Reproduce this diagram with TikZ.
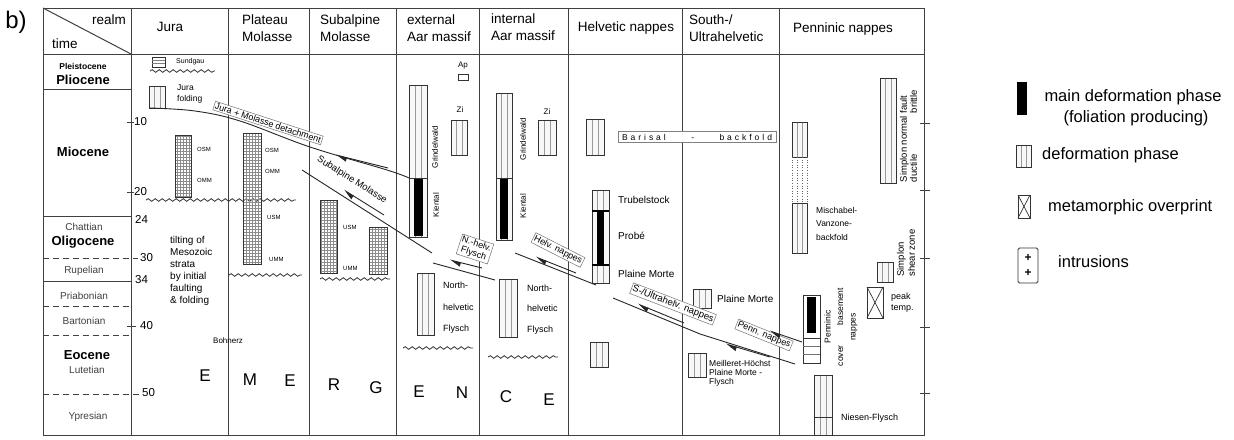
\documentclass[tikz,border=0pt]{standalone}
\usepackage{fontspec}
\setmainfont{Liberation Sans}
\newfontfamily\spacedfont[LetterSpace=35]{Liberation Sans}
\usetikzlibrary{arrows.meta,patterns,decorations.pathmorphing,calc}
\begin{document}
\begin{tikzpicture}[x=1pt,y=-1pt,
  frame/.style={line width=1pt, draw=black!75},
  hdr/.style={font=\fontsize{13.5}{17}\selectfont, align=left, inner sep=0pt},
  epoch/.style={font=\bfseries\fontsize{13}{15}\selectfont, inner sep=0pt},
  stage/.style={font=\fontsize{10}{12}\selectfont, text=black!75, inner sep=0pt},
  num/.style={font=\fontsize{11.5}{13}\selectfont, inner sep=0pt, anchor=west},
  small/.style={font=\fontsize{6}{7}\selectfont, inner sep=0pt, anchor=west},
  lab/.style={font=\fontsize{9.5}{12}\selectfont, inner sep=0pt, anchor=west},
  rot/.style={font=\fontsize{8}{9}\selectfont, inner sep=0pt, rotate=90},
  big/.style={font=\fontsize{17}{20}\selectfont, inner sep=0pt},
  leg/.style={font=\fontsize{16.5}{20}\selectfont, inner sep=0pt},
  plainbox/.style={draw=black!80, line width=0.8pt},
  defbox/.style={draw=black!80, line width=0.8pt, fill=black!3,
    path picture={
      \draw[black!40, line width=0.4pt]
        ($(path picture bounding box.north west)!0.33!(path picture bounding box.north east)$) --
        ($(path picture bounding box.south west)!0.33!(path picture bounding box.south east)$)
        ($(path picture bounding box.north west)!0.67!(path picture bounding box.north east)$) --
        ($(path picture bounding box.south west)!0.67!(path picture bounding box.south east)$);
    }},
  molbox/.style={draw=black!80, line width=0.8pt, pattern=grid, pattern color=black!45},
  wave/.style={draw=black!80, line width=0.8pt, decorate, decoration={snake, amplitude=1.3pt, segment length=7pt}},
  thrust/.style={draw=black!85, line width=0.9pt},
  harp/.style={draw=black!85, line width=0.9pt, {Triangle[harpoon,length=10pt,width=8pt]}-},
  tlabel/.style={draw=black!55, fill=white, line width=0.5pt, inner sep=1.2pt, font=\fontsize{9}{10}\selectfont},
  dashline/.style={draw=black!75, line width=1pt, dash pattern=on 6pt off 4pt}
]
\useasboundingbox (0,0) rectangle (1234,439);
\fill[white] (0,0) rectangle (1234,439);

\node[font=\fontsize{24}{26}\selectfont, inner sep=0pt] (blabel) at (16,22) {b)};

% ---------- frame ----------
\draw[frame] (43,8) rectangle (924,435);
\draw[frame] (43,54) -- (924,54);
\foreach \cx in {131,228,309,396,479,568,682,779}
  \draw[frame] (\cx,8) -- (\cx,435);
\draw[frame] (43,8) -- (131,54);

% ---------- headers ----------
\node[hdr, anchor=east] (realm) at (126,20) {realm};
\node[hdr, anchor=west] (time) at (52,44) {time};
\node[hdr] (hjura) at (170,27) {Jura};
\node[hdr, anchor=west] (hplat) at (242,28) {Plateau\\Molasse};
\node[hdr, anchor=west] (hsub) at (320,28) {Subalpine\\Molasse};
\node[hdr, anchor=west] (hext) at (407,28) {external\\Aar massif};
\node[hdr, anchor=west] (hint) at (491,27) {internal\\Aar massif};
\node[hdr] (hhel) at (626,28) {Helvetic nappes};
\node[hdr, anchor=west] (hsou) at (689,28) {South-/\\Ultrahelvetic};
\node[hdr] (hpen) at (843,29) {Penninic nappes};

% ---------- time column ----------
\draw[frame] (43,89) -- (131,89);
\draw[frame] (43,216) -- (131,216);
\draw[frame] (43,281) -- (131,281);
\draw[dashline] (43,258) -- (138,258);
\draw[dashline] (43,306) -- (131,306);
\draw[dashline] (43,335) -- (131,335);
\draw[dashline] (43,394) -- (139,394);
\draw[frame] (127,122) -- (134,122);
\draw[frame] (127,192) -- (134,192);
\draw[frame] (127,326) -- (136,326);

\node[epoch, font=\bfseries\fontsize{8.5}{10}\selectfont] (pleis) at (83,66) {Pleistocene};
\node[epoch] (plio) at (83,80) {Pliocene};
\node[epoch] (mio) at (83,152) {Miocene};
\node[stage] (chat) at (84,227) {Chattian};
\node[epoch] (oligo) at (83,242) {Oligocene};
\node[stage] (rup) at (84,271) {Rupelian};
\node[stage] (pri) at (84,296) {Priabonian};
\node[stage] (bart) at (84,321) {Bartonian};
\node[epoch] (eoc) at (87,355) {Eocene};
\node[stage] (lut) at (87,370) {Lutetian};
\node[stage] (ypr) at (88,417) {Ypresian};

\node[num] (t10) at (134,122) {10};
\node[num] (t20) at (134,192) {20};
\node[num] (t24) at (135,219) {24};
\node[num] (t30) at (140,258) {30};
\node[num] (t34) at (135,280) {34};
\node[num] (t40) at (140,326) {40};
\node[num] (t50) at (142,393) {50};

% ---------- Jura ----------
\draw[plainbox] (152,57) rectangle (165,67);
\draw[black!50, line width=0.4pt] (152,60.5) -- (165,60.5) (152,63.5) -- (165,63.5);
\node[small, font=\fontsize{7}{8}\selectfont] (sund) at (176,62) {Sundgau};
\draw[wave] (150,71) -- (215,71);
\draw[defbox] (149,86) rectangle (165,108);
\node[lab, align=left, font=\fontsize{8.5}{11}\selectfont] (jfold) at (177,94) {Jura\\folding};
\draw[molbox] (175,135) rectangle (191,197);
\node[small] (osm1) at (197,149) {OSM};
\node[small] (omm1) at (197,180) {OMM};
\draw[wave] (146,200) -- (296,200);
\node[lab, align=left, font=\fontsize{10}{12}\selectfont, anchor=north west] (tilt) at (170,236) {tilting of\\Mesozoic\\strata\\by initial\\faulting\\\& folding};
\node[lab, font=\fontsize{8}{9}\selectfont] (bohn) at (213,341) {Bohnerz};
\node[big] (e1) at (205,376) {E};

% ---------- Plateau Molasse ----------
\draw[molbox] (243,133) rectangle (261,264);
\node[small] (osm2) at (265,150) {OSM};
\node[small] (omm2) at (265,171) {OMM};
\node[small] (usm2) at (267,217) {USM};
\node[small] (umm2) at (269,259) {UMM};
\draw[wave] (229,275) -- (302,275);
\node[big] (m1) at (250,380) {M};
\node[big] (e2) at (290,381) {E};

% ---------- Subalpine Molasse ----------
\draw[molbox] (320,200) rectangle (337,273);
\draw[molbox] (369,227) rectangle (387,274);
\node[small] (usm3) at (343,227) {USM};
\node[small] (umm3) at (343,268) {UMM};
\draw[wave] (320,279) -- (390,279);
\node[big] (r1) at (334,385) {R};
\node[big] (g1) at (376,388) {G};

% ---------- external Aar massif ----------
\draw[defbox] (409,85) rectangle (427,237);
\fill[black] (414,178) rectangle (423,236);
\draw[plainbox] (409,178) -- (427,178);
\draw[plainbox] (458,74) rectangle (468,80);
\node[font=\fontsize{8}{9}\selectfont, inner sep=0pt] (ap) at (463,66) {Ap};
\draw[defbox] (451,120) rectangle (467,155);
\node[font=\fontsize{8}{9}\selectfont, inner sep=0pt] (zi1) at (460,110) {Zi};
\node[rot] (grind1) at (435,147) {Grindelwald};
\node[rot] (kien1) at (436,205) {Kiental};
\draw[defbox] (417,273) rectangle (434,335);
\node[lab, font=\fontsize{9}{10}\selectfont] (nh1a) at (443,285) {North-};
\node[lab, font=\fontsize{9}{10}\selectfont] (nh1b) at (443,307) {helvetic};
\node[lab, font=\fontsize{9}{10}\selectfont] (nh1c) at (443,329) {Flysch};
\draw[wave] (403,348) -- (473,348);
\node[big] (e3) at (419,392) {E};
\node[big] (n1) at (462,393) {N};

% ---------- internal Aar massif ----------
\draw[defbox] (496,93) rectangle (512,240);
\fill[black] (500,178) rectangle (508,239);
\draw[plainbox] (496,178) -- (512,178);
\draw[defbox] (538,120) rectangle (556,155);
\node[font=\fontsize{8}{9}\selectfont, inner sep=0pt] (zi2) at (547,112) {Zi};
\node[rot] (grind2) at (523,139) {Grindelwald};
\node[rot] (kien2) at (523,206) {Kiental};
\draw[defbox] (499,279) rectangle (517,337);
\node[lab, font=\fontsize{9}{10}\selectfont] (nh2a) at (527,288) {North-};
\node[lab, font=\fontsize{9}{10}\selectfont] (nh2b) at (527,308) {helvetic};
\node[lab, font=\fontsize{9}{10}\selectfont] (nh2c) at (527,330) {Flysch};
\draw[wave] (488,357) -- (558,357);
\node[big] (c1) at (506,397) {C};
\node[big] (e4) at (549,400) {E};

% ---------- Helvetic nappes ----------
\draw[defbox] (586,119) rectangle (604,155);
\draw[defbox] (592,190) rectangle (609,283);
\fill[black] (597,211) rectangle (604,265);
\draw[line width=2pt] (592,211) -- (609,211) (592,265) -- (609,265);
\node[lab, font=\fontsize{10}{11}\selectfont] (trub) at (618,200) {Trubelstock};
\node[lab, font=\fontsize{10}{11}\selectfont] (probe) at (618,236) {Probé};
\node[lab, font=\fontsize{10}{11}\selectfont] (pm1) at (618,274) {Plaine Morte};
\draw[defbox] (590,342) rectangle (608,367);

% ---------- South-/Ultrahelvetic ----------
\draw[defbox] (693,289) rectangle (711,308);
\node[lab, font=\fontsize{10}{11}\selectfont] (pm2) at (717,299) {Plaine Morte};
\draw[defbox] (688,353) rectangle (706,377);
\node[lab, align=left, font=\fontsize{8.5}{9}\selectfont, anchor=north west] (meil) at (709,360) {Meilleret-Höchst\\Plaine Morte -\\Flysch};

% ---------- Penninic nappes ----------
\draw[defbox] (792,122) rectangle (807,157);
\draw[black!60, line width=0.6pt, dotted] (792,157) -- (792,203) (807,157) -- (807,203) (797,157) -- (797,203) (802,157) -- (802,203);
\draw[defbox] (792,203) rectangle (807,253);
\node[lab, align=left, font=\fontsize{8.5}{13.5}\selectfont, anchor=north west] (misch) at (816,207) {Mischabel-\\Vanzone-\\backfold};
\draw[defbox] (880,78) rectangle (896,183);
\node[rotate=90, inner sep=0pt, align=left, font=\fontsize{9.5}{10}\selectfont] (snf) at (908.5,136) {Simplon normal fault\\\makebox[92pt]{ductile\hfill brittle}};
\draw[defbox] (877,262) rectangle (893,282);
\node[rotate=90, inner sep=0pt, align=left, font=\fontsize{9.5}{11}\selectfont] (ssz) at (906,253) {Simplon\\shear zone};
\draw[plainbox] (867,287) rectangle (883,318);
\draw[black!80, line width=0.7pt] (867,287) -- (883,318) (883,287) -- (867,318);
\node[lab, align=left, font=\fontsize{9}{11}\selectfont] (peak) at (891,303) {peak\\temp.};
\draw[plainbox] (803,295) rectangle (820,363);
\fill[black] (807,297) rectangle (816,333);
\draw[plainbox] (803,338) -- (820,338);
\draw[black!55, line width=0.5pt] (803,346) -- (820,346) (803,354) -- (820,354);
\node[rotate=90, inner sep=0pt, align=center, font=\fontsize{8.5}{12.5}\selectfont] (pcb) at (841,327) {Penninic\\cover\hspace{20pt}basement\\nappes};
\draw[defbox] (814,375) rectangle (832,435);
\draw[plainbox] (814,417) -- (832,417);
\node[lab, font=\fontsize{9}{10}\selectfont] (nies) at (841,418) {Niesen-Flysch};
\foreach \ty in {123,190,258,327,393}
  \draw[frame] (920,\ty) -- (930,\ty);

% ---------- thrusts ----------
\draw[thrust] plot[smooth, tension=0.6] coordinates {(150,108) (195,111) (240,121) (310,147) (387,170) (409,178)};
\node[tlabel, rotate=-18] (jmd) at (268,123) {Jura + Molasse detachment};
\coordinate (a1s) at (336,155); \coordinate (a1e) at (388,168);
\draw[harp] (a1s) -- (a1e);

\draw[thrust] (302,170) -- (432,253);
\node[font=\fontsize{9.5}{10}\selectfont, rotate=-32, inner sep=1pt] (subm) at (352,180) {Subalpine Molasse};
\coordinate (a2s) at (344,190); \coordinate (a2e) at (384,215);
\draw[harp] (a2s) -- (a2e);

\draw[thrust] (433,263) -- (495,280);
\node[tlabel, rotate=-18, align=center] (nhf) at (475,249) {N.-helv.\\Flysch};
\coordinate (a3s) at (450,260); \coordinate (a3e) at (482,268);
\draw[harp] (a3s) -- (a3e);

\draw[thrust] (515,253) -- (596,285);
\node[tlabel, rotate=-27] (hn) at (558,250) {Helv. nappes};
\coordinate (a4s) at (536,257); \coordinate (a4e) at (576,273);
\draw[harp] (a4s) -- (a4e);

\draw[thrust] (613,298) -- (700,334) -- (795,364);
\node[tlabel, rotate=-21, font=\fontsize{9.5}{10}\selectfont] (suh) at (673,304) {S-/Ultrahelv. nappes};
\coordinate (a5s) at (638,304); \coordinate (a5e) at (684,323);
\draw[harp] (a5s) -- (a5e);

\node[tlabel, rotate=-22] (pn) at (764,335) {Penn. nappes};
\coordinate (a6s) at (726,344); \coordinate (a6e) at (770,357);
\draw[harp] (a6s) -- (a6e);
\coordinate (a7s) at (770,331); \coordinate (a7e) at (802,342);
\draw[harp] (a7s) -- (a7e);

\node[draw=black!50, fill=white, line width=0.5pt, minimum width=158pt, minimum height=11pt, inner sep=0pt, font=\spacedfont\fontsize{8.5}{9}\selectfont] (baris) at (697,137) {\makebox[150pt]{Barisal\hfill-\hfill backfold}};

% ---------- legend ----------
\fill[black] (1017,82) rectangle (1027,115);
\node[leg] (lg1) at (1133,97) {main deformation phase};
\node[leg] (lg1b) at (1136,118) {(foliation producing)};
\draw[defbox] (1016,145) rectangle (1031,167);
\node[leg, anchor=west] (lg2) at (1042,155) {deformation phase};
\draw[plainbox] (1018,195) rectangle (1030,218);
\draw[black!80, line width=0.7pt] (1018,195) -- (1030,218) (1030,195) -- (1018,218);
\node[leg, anchor=west] (lg3) at (1048,207) {metamorphic overprint};
\draw[plainbox, rounded corners=1.5pt] (1018,248) rectangle (1038,283);
\node[font=\bfseries\fontsize{12}{12}\selectfont, inner sep=0pt] (pl1) at (1028,258) {+};
\node[font=\bfseries\fontsize{12}{12}\selectfont, inner sep=0pt] (pl2) at (1028,273) {+};
\node[leg, anchor=west] (lg4) at (1058,262) {intrusions};
\end{tikzpicture}
\end{document}
